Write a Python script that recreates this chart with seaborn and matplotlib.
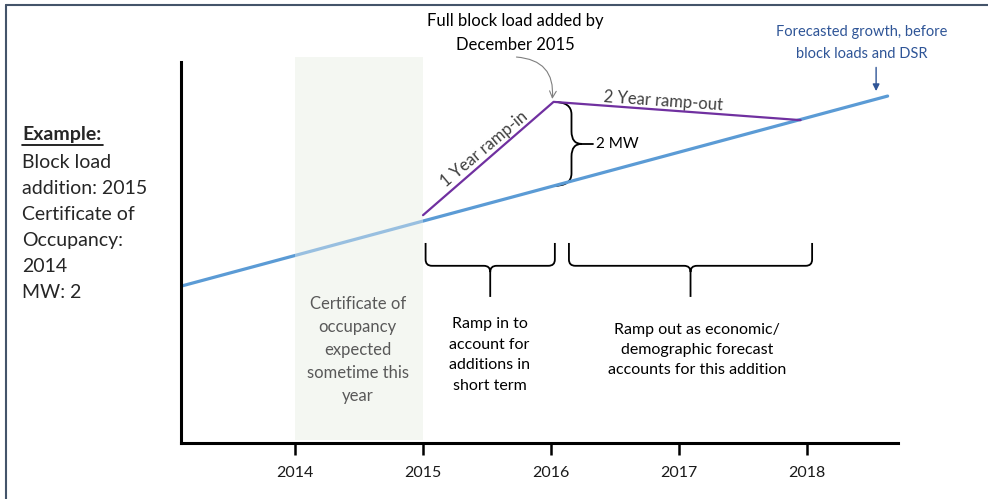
import numpy as np
import matplotlib.pyplot as plt
import seaborn as sns
from matplotlib.path import Path
from matplotlib.patches import PathPatch
from matplotlib.lines import Line2D

# forecast (before block loads) and the block load ramp, in MW
forecast_year = [2013.11, 2018.63]
forecast_mw = [3.78, 8.36]
block_year = [2015.0, 2016.02, 2017.95]
block_mw = [5.49, 8.22, 7.78]
tick_years = [2014, 2015, 2016, 2017, 2018]
occupancy_span = [2014, 2015]
example_lines = ['Block load', 'addition: 2015', 'Certificate of', 'Occupancy:', '2014', 'MW: 2']

BLUE = '#5b9bd5'
PURPLE = '#7030a0'
DARK_BLUE = '#2f5597'
SHADE = '#f4f7f2'


def hbrace(ax, x0, x1, ytop, ymid, ybot, rx=0.05, ry=0.15):
    # brace lying on its side, tip pointing down
    xc = (x0 + x1) / 2
    verts, codes = [], []
    for xe, s in [(x0, 1), (x1, -1)]:
        verts += [(xe, ytop), (xe, ymid + ry), (xe, ymid), (xe + s * rx, ymid),
                  (xc - s * rx, ymid), (xc, ymid), (xc, ymid - ry)]
        codes += [Path.MOVETO, Path.LINETO, Path.CURVE3, Path.CURVE3,
                  Path.LINETO, Path.CURVE3, Path.CURVE3]
    verts += [(xc, ymid - ry), (xc, ybot)]
    codes += [Path.MOVETO, Path.LINETO]
    ax.add_patch(PathPatch(Path(verts, codes), fill=False, lw=1.3, ec='black', clip_on=False))


def vbrace(ax, x0, xmid, xtip, ytop, ybot, ry=0.3):
    # upright brace, tip pointing right
    yc = (ytop + ybot) / 2
    verts, codes = [], []
    for ye, s in [(ytop, -1), (ybot, 1)]:
        verts += [(x0, ye), (xmid, ye), (xmid, ye + s * ry), (xmid, yc - s * ry), (xmid, yc), (xtip, yc)]
        codes += [Path.MOVETO, Path.CURVE3, Path.CURVE3, Path.LINETO, Path.CURVE3, Path.CURVE3]
    ax.add_patch(PathPatch(Path(verts, codes), fill=False, lw=1.3, ec='black', clip_on=False))
    return yc


sns.set_theme(style='white')
plt.rcParams['font.family'] = ['Lato', 'DejaVu Sans']

fig = plt.figure(figsize=(9.88, 4.99), dpi=100)
ax = fig.add_axes([0.1832, 0.1122, 0.7257, 0.7635])

# shaded year of expected certificate of occupancy
ax.axvspan(*occupancy_span, ymin=0.008, ymax=1.012, color=SHADE, zorder=1, clip_on=False, lw=0)
sns.lineplot(x=forecast_year, y=forecast_mw, ax=ax, color=BLUE, lw=2.3, zorder=2)
ax.axvspan(*occupancy_span, ymin=0.008, ymax=1.0, color=SHADE, alpha=0.4, zorder=3, lw=0)
sns.lineplot(x=block_year, y=block_mw, ax=ax, color=PURPLE, lw=1.6, zorder=4)

ax.set_xlim(2013.109, 2018.711)
ax.set_ylim(0, 9.18)
ax.set_xticks(tick_years)
ax.set_xticklabels([str(y) for y in tick_years], fontsize=11.5, color='#1a1a1a')
ax.set_yticks([])
ax.tick_params(axis='x', direction='out', length=8.5, width=1.8, color='black', pad=8, bottom=True)
for side in ['top', 'right']:
    ax.spines[side].set_visible(False)
for side in ['left', 'bottom']:
    ax.spines[side].set_color('black')
    ax.spines[side].set_linewidth(2.2)

# labels along the ramp
ax.text(2015.48, 7.08, '1 Year ramp-in', rotation=40, rotation_mode='anchor', ha='center', va='center',
        fontsize=12, color='#404040')
ax.text(2016.875, 8.24, '2 Year ramp-out', rotation=-4, rotation_mode='anchor', ha='center', va='center',
        fontsize=12, color='#404040')

# 2 MW brace between peak and forecast
peak_x, peak_y = block_year[1], block_mw[1]
base_y = np.interp(peak_x, forecast_year, forecast_mw)
yc = vbrace(ax, peak_x, peak_x + 0.14, peak_x + 0.22, peak_y, base_y)
ax.plot([peak_x + 0.22, peak_x + 0.31], [yc, yc], color='black', lw=1.3, clip_on=False)
ax.text(peak_x + 0.33, yc, '2 MW', ha='left', va='center', fontsize=11, color='black')

# top annotations
ax.text(2015.72, 9.88, 'Full block load added by\nDecember 2015', ha='center', va='center',
        fontsize=12, linespacing=1.6, color='black')
ax.annotate('', xy=(peak_x - 0.01, peak_y + 0.07), xytext=(2015.73, 9.3),
            arrowprops=dict(arrowstyle='->', color='#7f7f7f', lw=0.8,
                            connectionstyle='arc3,rad=-0.5', shrinkA=0, shrinkB=0))
ax.text(2018.43, 9.64, 'Forecasted growth, before\nblock loads and DSR', ha='center', va='center',
        fontsize=10.5, linespacing=1.74, color=DARK_BLUE)
ax.annotate('', xy=(2018.54, 8.48), xytext=(2018.54, 9.05),
            arrowprops=dict(arrowstyle='-|>', color=DARK_BLUE, lw=1, mutation_scale=10,
                            shrinkA=0, shrinkB=0))

# bottom braces and explanations
hbrace(ax, 2015.02, 2016.03, 4.82, 4.27, 3.52)
hbrace(ax, 2016.14, 2018.04, 4.82, 4.27, 3.52)
ax.text(2015.52, 2.12, 'Ramp in to\naccount for\nadditions in\nshort term', ha='center', va='center',
        fontsize=11.5, linespacing=1.59, color='black')
ax.text(2017.14, 2.24, 'Ramp out as economic/\ndemographic forecast\naccounts for this addition',
        ha='center', va='center', fontsize=11.5, linespacing=1.55, color='black')
ax.text(2014.49, 2.24, 'Certificate of\noccupancy\nexpected\nsometime this\nyear', ha='center', va='center',
        fontsize=12, linespacing=1.55, color='#595959', zorder=5)

# example box on the left
H = 499
fig.text(22 / 988, 1 - 135 / H, 'Example:', ha='left', va='center', fontsize=14, fontweight='bold')
fig.add_artist(Line2D([22 / 988, 103 / 988], [1 - 145 / H, 1 - 145 / H], color='black', lw=1.2))
for i, line in enumerate(example_lines):
    fig.text(22 / 988, 1 - (162 + 26.1 * i) / H, line, ha='left', va='center', fontsize=14)

# frame of the slide
fig.add_artist(Line2D([6 / 988, 1], [1 - 5 / H, 1 - 5 / H], color='#44546a', lw=1.5))
fig.add_artist(Line2D([6 / 988, 6 / 988], [0, 1 - 5 / H], color='#44546a', lw=1.5))

fig.savefig('out.png', dpi=100)
